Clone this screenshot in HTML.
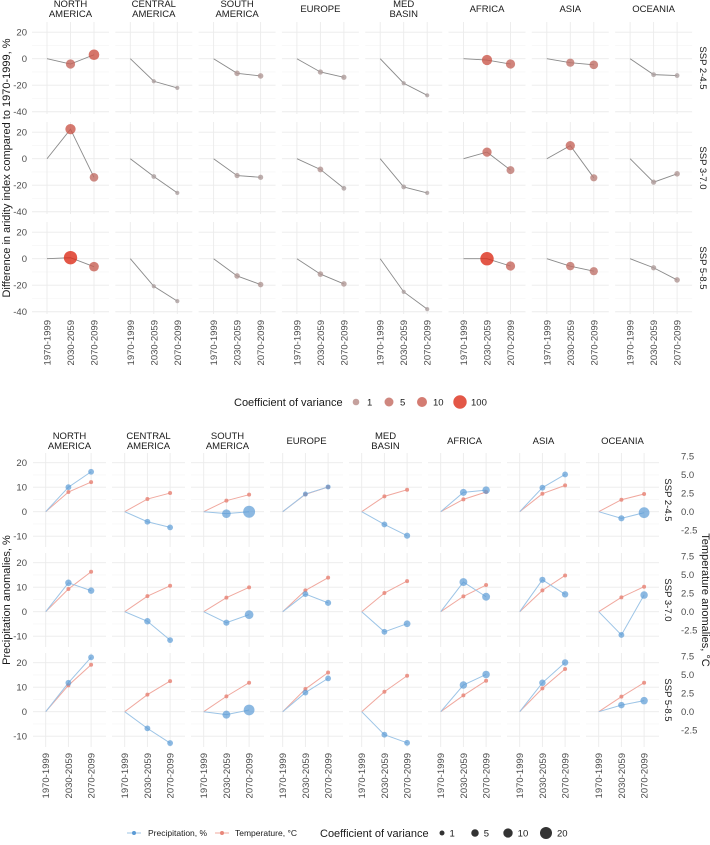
<!DOCTYPE html>
<html><head><meta charset="utf-8"><style>
body{margin:0;background:#fff;font-family:"Liberation Sans",sans-serif}
svg text{font-family:"Liberation Sans",sans-serif}
</style></head><body>
<svg id="c" width="710" height="840" viewBox="0 0 710 840" xmlns="http://www.w3.org/2000/svg"></svg>
<script>
const regions=["NORTH|AMERICA","CENTRAL|AMERICA","SOUTH|AMERICA","EUROPE","MED|BASIN","AFRICA","ASIA","OCEANIA"];
const periods=["1970-1999","2030-2059","2070-2099"];
const scenarios=["SSP 2-4.5","SSP 3-7.0","SSP 5-8.5"];
// Aridity index difference (%) [scenario][region] -> [1970,2030,2070]
const aridSSP245=[[0,-4,3],[0,-17,-22],[0,-11,-13],[0,-10,-14],[0,-18.5,-27.6],[0,-1,-4],[0,-3,-4.6],[0,-12,-12.7]];
const aridSSP370=[[0,22.3,-14],[0,-13.4,-25.8],[0,-12.7,-14],[0,-8.1,-22.3],[0,-21.3,-25.8],[0,5,-8.6],[0,9.9,-14.4],[0,-17.7,-11.4]];
const aridSSP585=[[0,0.8,-6],[0,-20.8,-32],[0,-13,-19.5],[0,-11.6,-19],[0,-25,-38],[0,0,-5.5],[0,-5.6,-9.4],[0,-6.8,-16]];
const aridCV245=[[0.3,6,15],[0.2,0.2,0.2],[0.3,0.5,0.5],[0.3,0.4,0.4],[0.2,0.2,0.2],[0.3,12,6],[0.3,3,4],[0.2,0.3,0.3]];
const aridCV370=[[0.3,12,4],[0.2,0.3,0.2],[0.3,0.4,0.4],[0.3,0.6,0.3],[0.2,0.3,0.2],[0.3,6,2.5],[0.3,6,1.5],[0.2,0.4,0.5]];
const aridCV585=[[0.3,100,8],[0.2,0.2,0.2],[0.3,0.5,0.5],[0.3,0.5,0.5],[0.2,0.2,0.2],[0.3,100,6],[0.3,3.5,3],[0.2,0.4,0.5]];
const aridTicks=[20,0,-20,-40];
// Precipitation (%) and temperature (°C)
const precSSP245=[[0,10,16.3],[0,-4.1,-6.4],[0,-0.8,0],[0,7.2,10.1],[0,-5.2,-9.8],[0,7.9,8.8],[0,9.8,15.2],[0,-2.7,-0.4]];
const precSSP370=[[0,11.8,8.6],[0,-3.9,-11.6],[0,-4.5,-1.2],[0,7.2,3.6],[0,-8.2,-4.9],[0,12.1,6.1],[0,13,7.1],[0,-9.5,6.8]];
const precSSP585=[[0,11.8,22.2],[0,-6.8,-12.8],[0,-1.2,0.7],[0,7.8,13.6],[0,-9.4,-12.7],[0,10.9,15.2],[0,11.8,20.1],[0,2.7,4.5]];
const tempSSP245=[[0,2.66,4.0],[0,1.71,2.52],[0,1.49,2.3],[0,2.34,3.33],[0,2.07,2.97],[0,1.67,2.66],[0,2.43,3.56],[0,1.62,2.39]];
const tempSSP370=[[0,3.06,5.4],[0,2.1,3.5],[0,1.9,3.29],[0,2.88,4.6],[0,2.52,4.14],[0,2.07,3.6],[0,2.88,4.9],[0,1.94,3.38]];
const tempSSP585=[[0,3.56,6.35],[0,2.3,4.14],[0,2.07,3.92],[0,3.06,5.3],[0,2.7,4.86],[0,2.2,4.19],[0,3.15,5.77],[0,2.03,3.92]];
const precCV245=[[0,2,2],[0,2,2],[0,8,20],[0,1,1],[0,2,2.5],[0,4,5],[0,2,2],[0,2.5,15]];
const precCV370=[[0,3,3],[0,3,2],[0,2.5,8],[0,2,2.5],[0,2,3.5],[0,6,6],[0,2.5,3],[0,2,5]];
const precCV585=[[0,2,2],[0,2,2],[0,6,15],[0,2,2],[0,2,2],[0,5,5],[0,3,3],[0,3,5]];
const precTicks=[20,10,0,-10];
const tempTicks=["7.5","5.0","2.5","0.0","-2.5"];

const NS="http://www.w3.org/2000/svg";
const svg=document.getElementById('c');
function el(tag,attrs,parent,txt){const e=document.createElementNS(NS,tag);for(const k in attrs)e.setAttribute(k,attrs[k]);if(txt!==undefined)e.textContent=txt;(parent||svg).appendChild(e);return e;}
function lerp(a,b,t){return a+(b-a)*t}
function mix(c1,c2,t){return 'rgb('+[0,1,2].map(i=>Math.round(lerp(c1[i],c2[i],t))).join(',')+')'}
const LOWC=[172,160,160],HIC=[220,45,25];

/* ---------- TOP CHART ---------- */
const topG=el('g',{});


const tX0=32,tStep=83.3,tW=77,tRowTop=[22,122,222],tH=92;
const aYmax=27.7,aYmin=-41.7;
function ay(v,r){return tRowTop[r]+(aYmax-v)/(aYmax-aYmin)*tH}
function tx(c,i){return tX0+c*tStep+15+i*23.5}
const arid=[aridSSP245,aridSSP370,aridSSP585],aridCV=[aridCV245,aridCV370,aridCV585];
for(let r=0;r<3;r++){
  for(let c=0;c<8;c++){
    const px=tX0+c*tStep;
    for(const v of [30,10,-10,-30]){const y=ay(v,r);if(y>tRowTop[r]&&y<tRowTop[r]+tH)el('line',{x1:px,x2:px+tW,y1:y,y2:y,stroke:'#f4f4f4','stroke-width':0.6},topG);}
    for(const v of aridTicks){const y=ay(v,r);el('line',{x1:px,x2:px+tW,y1:y,y2:y,stroke:'#ebebeb','stroke-width':0.9},topG);}
    for(let i=0;i<3;i++){const x=tx(c,i);el('line',{x1:x,x2:x,y1:tRowTop[r],y2:tRowTop[r]+tH,stroke:'#ebebeb','stroke-width':0.9},topG);}
    const d=arid[r][c];
    const ln=el('polyline',{points:d.map((v,i)=>tx(c,i)+','+ay(v,r)).join(' '),fill:'none',stroke:'#8a8a8a','stroke-width':0.9},topG);
    
    
    for(let i=1;i<3;i++){
      const cv=aridCV[r][c][i];const lg=Math.log10(cv);
      const rad=Math.max(1.8,3.3+1.7*lg);
      const t=Math.max(0,Math.min(1,(lg+0.5)/2.5));
      const p=el('circle',{cx:tx(c,i),cy:ay(d[i],r),r:rad,fill:mix(LOWC,HIC,t),'fill-opacity':0.8},topG);
      
      
    }
  }
  for(const v of aridTicks){el('text',{x:27,y:ay(v,r)+3.5,'text-anchor':'end','font-size':9.5,fill:'#4d4d4d'},topG,String(v));}
  const yc=tRowTop[r]+tH/2;
  const s=el('text',{x:700,y:yc,'text-anchor':'middle','font-size':9.5,fill:'#1a1a1a',transform:'rotate(90 700 '+yc+')'},topG,scenarios[r]);
  
  
}
for(let c=0;c<8;c++){
  const cx=tX0+c*tStep+tW/2;const parts=regions[c].split('|');
  parts.forEach((p,k)=>{const yy=parts.length==2?(k==0?7:17):12;const t=el('text',{x:cx,y:yy,'text-anchor':'middle','font-size':9.5,fill:'#1a1a1a'},topG,p);});
  for(let i=0;i<3;i++){const x=tx(c,i)+3.5;el('text',{x:x,y:320,'text-anchor':'end','font-size':9.5,fill:'#4d4d4d',transform:'rotate(-90 '+x+' 320)'},topG,periods[i]);}
}
{const t=el('text',{x:10,y:168,'text-anchor':'middle','font-size':11,fill:'#1a1a1a',transform:'rotate(-90 10 168)'},topG,'Difference in aridity index compared to 1970-1999, %');}
// top legend
{const lt=el('text',{x:234,y:406,'font-size':11,fill:'#1a1a1a'},topG,'Coefficient of variance');
 const items=[[1,356],[5,389],[10,422],[100,460]];
 items.forEach(([v,x])=>{const lg=Math.log10(v);const rad=Math.max(1.8,3.3+1.7*lg);const t=Math.max(0,Math.min(1,(lg+0.5)/2.5));
  const c=el('circle',{cx:x,cy:402,r:rad,fill:mix(LOWC,HIC,t),'fill-opacity':0.8},topG);
  el('text',{x:x+11,y:405.5,'font-size':9.5,fill:'#1a1a1a'},topG,String(v));});}

/* ---------- BOTTOM CHART ---------- */
const botG=el('g',{});


const bX0=33,bStep=79,bW=73,bRowTop=[453,553,653],bH=94,bZero=58.7;
function py(v,r){return bRowTop[r]+bZero-v*2.45}
function ty(v,r){return bRowTop[r]+bZero-v*7.4}
function bx(c,i){return bX0+c*bStep+12.7+i*22.7}
function prad(cv){return 2.5+3.5*(Math.sqrt(cv)-1)/(Math.sqrt(20)-1)}
const prec=[precSSP245,precSSP370,precSSP585],temp=[tempSSP245,tempSSP370,tempSSP585],pcv=[precCV245,precCV370,precCV585];
for(let r=0;r<3;r++){
  for(let c=0;c<8;c++){
    const px=bX0+c*bStep;
    for(const v of [15,5,-5]){const y=py(v,r);el('line',{x1:px,x2:px+bW,y1:y,y2:y,stroke:'#f4f4f4','stroke-width':0.6},botG);}
    for(const v of precTicks){const y=py(v,r);el('line',{x1:px,x2:px+bW,y1:y,y2:y,stroke:'#ebebeb','stroke-width':0.9},botG);}
    for(let i=0;i<3;i++){const x=bx(c,i);el('line',{x1:x,x2:x,y1:bRowTop[r],y2:bRowTop[r]+bH,stroke:'#ebebeb','stroke-width':0.9},botG);}
    const p=prec[r][c],t=temp[r][c];
    const tl=el('polyline',{points:t.map((v,i)=>bx(c,i)+','+ty(v,r)).join(' '),fill:'none',stroke:'#f0a89e','stroke-width':1},botG);
    
    
    const pl=el('polyline',{points:p.map((v,i)=>bx(c,i)+','+py(v,r)).join(' '),fill:'none',stroke:'#9cc4e6','stroke-width':1},botG);
    
    
    for(let i=1;i<3;i++){
      const tp=el('circle',{cx:bx(c,i),cy:ty(t[i],r),r:2,fill:'#e8877a','fill-opacity':0.85},botG);
      
      
      const pp=el('circle',{cx:bx(c,i),cy:py(p[i],r),r:prad(pcv[r][c][i]),fill:'#5b9bd5','fill-opacity':0.7},botG);
      
      
    }
  }
  for(const v of precTicks){el('text',{x:27,y:py(v,r)+3.5,'text-anchor':'end','font-size':9.5,fill:'#4d4d4d'},botG,String(v));}
  for(const s of tempTicks){el('text',{x:681,y:ty(parseFloat(s),r)+3.5,'font-size':9.5,fill:'#4d4d4d'},botG,s);}
  const yc=bRowTop[r]+bH/2;
  const s=el('text',{x:665,y:yc,'text-anchor':'middle','font-size':9.5,fill:'#1a1a1a',transform:'rotate(90 665 '+yc+')'},botG,scenarios[r]);
  
  
}
for(let c=0;c<8;c++){
  const cx=bX0+c*bStep+bW/2;const parts=regions[c].split('|');
  parts.forEach((p,k)=>{const yy=parts.length==2?(k==0?439:449):444;const t=el('text',{x:cx,y:yy,'text-anchor':'middle','font-size':9.5,fill:'#1a1a1a'},botG,p);});
  for(let i=0;i<3;i++){const x=bx(c,i)+3.5;el('text',{x:x,y:753,'text-anchor':'end','font-size':9.5,fill:'#4d4d4d',transform:'rotate(-90 '+x+' 753)'},botG,periods[i]);}
}
{const t=el('text',{x:10,y:600,'text-anchor':'middle','font-size':11,fill:'#1a1a1a',transform:'rotate(-90 10 600)'},botG,'Precipitation anomalies, %');
 const t2=el('text',{x:702,y:600,'text-anchor':'middle','font-size':11,fill:'#1a1a1a',transform:'rotate(90 702 600)'},botG,'Temperature anomalies, °C');}
// bottom legend
{
 el('line',{x1:127,x2:141,y1:833,y2:833,stroke:'#9cc4e6','stroke-width':1},botG);
 const a=el('circle',{cx:134,cy:833,r:2,fill:'#5b9bd5'},botG);
 el('text',{x:148,y:836,'font-size':8.5,fill:'#1a1a1a'},botG,'Precipitation, %');
 el('line',{x1:215,x2:229,y1:833,y2:833,stroke:'#f0a89e','stroke-width':1},botG);
 const b=el('circle',{cx:222,cy:833,r:2,fill:'#e8877a'},botG);
 el('text',{x:235,y:836,'font-size':8.5,fill:'#1a1a1a'},botG,'Temperature, °C');
 const lt=el('text',{x:320,y:837,'font-size':11,fill:'#1a1a1a'},botG,'Coefficient of variance');
 [[1,442],[5,475],[10,508],[20,546]].forEach(([v,x])=>{const c=el('circle',{cx:x,cy:833,r:prad(v),fill:'#333'},botG);el('text',{x:x+prad(v)+5,y:836.5,'font-size':9.5,fill:'#1a1a1a'},botG,String(v));});
}
</script>
</body></html>
